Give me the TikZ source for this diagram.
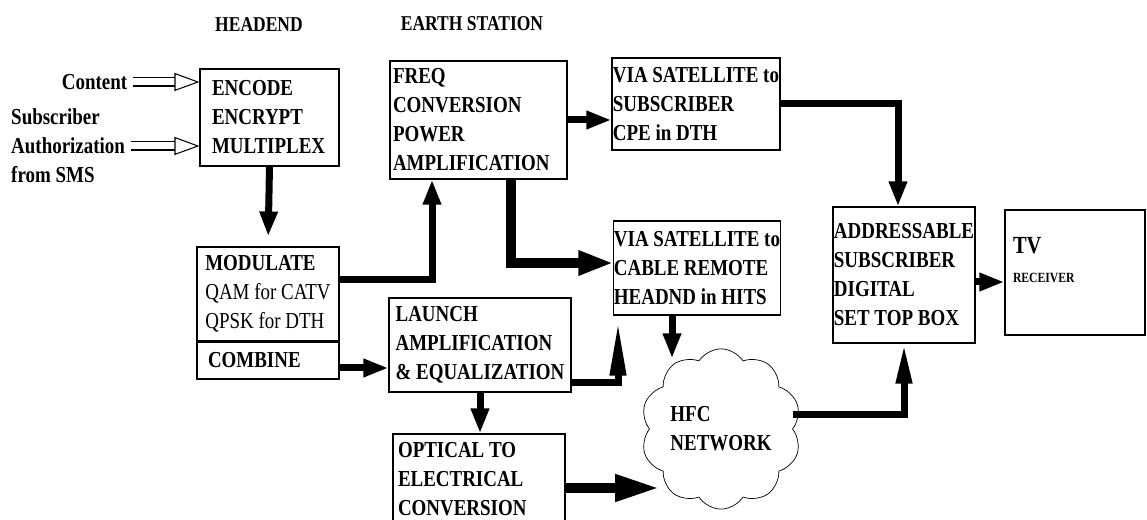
\documentclass[tikz,border=0pt]{standalone}
\usepackage{fontspec}
\setmainfont{Liberation Serif}[FakeStretch=0.83]
\usetikzlibrary{arrows.meta,positioning,shapes.symbols,calc}

\begin{document}
\begin{tikzpicture}[
  font=\fontsize{13}{16.5}\selectfont\bfseries,
  box/.style={draw, line width=0.6pt, inner xsep=0pt, inner ysep=0pt, align=flush left},
  heading/.style={font=\fontsize{12}{14}\selectfont\bfseries},
  side/.style={align=left},
  flow/.style={-{Triangle[length=0.5cm, width=0.34cm]}, line width=0.14cm},
  wideflow/.style={-{Triangle[length=0.7cm, width=0.46cm]}, line width=0.2cm},
  hollow/.style={double, double distance=0.14cm, line width=0.6pt,
                 -{Triangle[open, length=0.5cm, width=0.36cm]}},
]
\useasboundingbox (0,0) rectangle (22.94,10.4);
\clip (0,0) rectangle (22.94,10.4);

% --- Column headings ---
\node[heading] (he) at (5.18,9.9) {HEADEND};
\node[heading] (es) at (9.44,9.92) {EARTH STATION};

% --- Inputs to the headend ---
\node (content) at (1.89,8.76) {Content};
\node[side, anchor=west] (auth) at (0.1,7.48) {Subscriber\\Authorization\\from SMS};

% --- Headend ---
\node[box, minimum width=2.78cm, minimum height=1.94cm, text width=2.3cm] (enc) at (5.39,8.05)
  {ENCODE\\ENCRYPT\\MULTIPLEX};
\node[box, minimum width=2.84cm, minimum height=1.88cm] (mod) at (5.36,4.52)
  {MODULATE\\{\mdseries QAM for CATV}\\{\mdseries QPSK for DTH}};
\node[box, minimum width=2.84cm, minimum height=0.74cm, text width=2.4cm] (comb) at (5.36,3.19)
  {COMBINE};

% --- Earth station ---
\node[box, minimum width=3.54cm, minimum height=2.36cm, text width=3.42cm] (freq) at (9.57,8.0)
  {FREQ\\CONVERSION\\POWER\\AMPLIFICATION};
\node[box, minimum width=3.64cm, minimum height=1.88cm] (launch) at (9.6,3.5)
  {LAUNCH\\AMPLIFICATION\\\& EQUALIZATION};
\node[box, minimum width=3.44cm, minimum height=1.8cm, text width=3.24cm] (opt) at (9.58,0.82)
  {OPTICAL TO\\ELECTRICAL\\CONVERSION};

% --- Distribution ---
\node[box, minimum width=3.36cm, minimum height=1.84cm] (dth) at (13.92,8.32)
  {VIA SATELLITE to\\SUBSCRIBER\\CPE in DTH};
\node[box, minimum width=3.28cm, minimum height=1.88cm] (hits) at (13.94,5.04)
  {VIA SATELLITE to\\CABLE REMOTE\\HEADND in HITS};
\node[cloud, draw, cloud puffs=10, cloud puff arc=115, aspect=1, align=left, inner sep=0pt,
      minimum width=2.9cm, minimum height=2.9cm] (hfc) at (14.42,1.82) {HFC\\NETWORK};

% --- Subscriber end ---
\node[box, minimum width=2.84cm, minimum height=2.72cm] (stb) at (18.08,4.9)
  {ADDRESSABLE\\SUBSCRIBER\\DIGITAL\\SET TOP BOX};
\node[box, minimum width=2.8cm, minimum height=2.5cm, text width=2.48cm] (tv) at (21.5,4.95)
  {{\fontsize{14}{14}\selectfont TV}\\{\fontsize{8}{10}\selectfont RECEIVER\rule[-0.5cm]{0pt}{0pt}}};

% --- Connectors ---
\draw[hollow] (content.east) -- (content.east -| enc.west);
\draw[hollow] (auth.east) -- (auth.east -| enc.west);
\draw[flow, shorten >=0.2cm] (enc.south) -- (mod.north);
\draw[flow] ([yshift=0.28cm]mod.east) -| ([xshift=-0.93cm]freq.south);
\draw[flow] ([yshift=-0.15cm]comb.east) -- ([yshift=-0.15cm]comb.east -| launch.west);
\draw[flow] (freq.east) -- (freq.east -| dth.west);
\draw[wideflow] ([xshift=0.65cm]freq.south) |- ([yshift=0.1cm]hits.west);
\draw[flow, -{Triangle[length=1.1cm, width=0.3cm]}, shorten >=0.1cm]
  ([yshift=-0.76cm]launch.east) -| ([xshift=-1.58cm]hits.south);
\draw[flow] (launch.south) -- (launch.south |- opt.north);
\draw[wideflow, -{Triangle[length=0.9cm, width=0.5cm]}, shorten >=1.22cm]
  ([yshift=-0.18cm]opt.east) -- ([yshift=-0.18cm]opt.east -| hfc.center);
\draw[flow, shorten >=-0.2cm] ([xshift=-0.5cm]hits.south) -- ([xshift=-0.5cm]hits.south |- hfc.north);
\draw[flow] (dth.east) -| ([xshift=-0.12cm]stb.north);
\draw[flow, -{Triangle[length=0.8cm, width=0.3cm]}] ([yshift=0.28cm]hfc.east) -| (stb.south);
\draw[flow] ([yshift=-0.14cm]stb.east) -- ([yshift=-0.14cm]stb.east -| tv.west);

\end{tikzpicture}
\end{document}
